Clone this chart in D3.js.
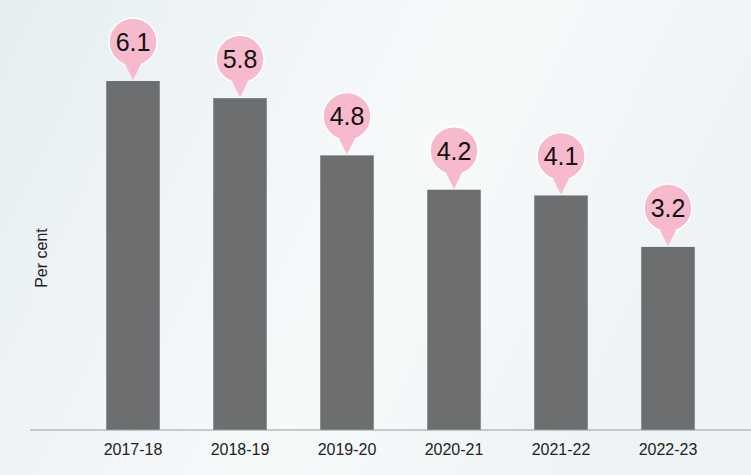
<!DOCTYPE html>
<html><head><meta charset="utf-8">
<script src="https://cdn.jsdelivr.net/npm/d3@7"></script>
<style>body{margin:0;background:#fff}</style></head>
<body><svg id="c" width="751" height="475"></svg>
<script>
const categories=["2017-18","2018-19","2019-20","2020-21","2021-22","2022-23"];
const values=[6.1,5.8,4.8,4.2,4.1,3.2];
const svg=d3.select("#c");
const defs=svg.append("defs");
const g=defs.append("linearGradient").attr("id","bg").attr("x1","0").attr("y1","0").attr("x2","1").attr("y2","0.3");
g.append("stop").attr("offset","0").attr("stop-color","#e6eef2");
g.append("stop").attr("offset","0.6").attr("stop-color","#f7fafb");
g.append("stop").attr("offset","1").attr("stop-color","#eef3f5");
svg.append("rect").attr("width",751).attr("height",475).attr("fill","url(#bg)");
const x=d3.scaleBand().domain(categories).range([79.5,721.5]).paddingInner(0.5).paddingOuter(0.25);
const y=d3.scaleLinear().domain([0,6.1]).range([430,81]);
svg.selectAll(".bar").data(values).join("rect")
 .attr("x",(d,i)=>x(categories[i])).attr("width",x.bandwidth())
 .attr("y",d=>y(d)).attr("height",d=>y(0)-y(d)).attr("fill","#6d6e70");
const ax=svg.append("g").attr("transform","translate(0,430)").call(d3.axisBottom(x).tickSize(0).tickPadding(14));
ax.select(".domain").remove();
svg.append("line").attr("x1",30).attr("x2",751).attr("y1",430).attr("y2",430).attr("stroke","#9a9a9a");
ax.selectAll("text").attr("font-family","Arial, Liberation Sans, sans-serif").attr("font-size",16).attr("fill","#222");
svg.append("text").attr("transform","translate(47,258) rotate(-90)").attr("text-anchor","middle")
 .attr("font-family","Arial, Liberation Sans, sans-serif").attr("font-size",16).attr("fill","#222").text("Per cent");
const b=svg.selectAll(".bub").data(values).join("g")
 .attr("transform",(d,i)=>`translate(${x(categories[i])+x.bandwidth()/2},${y(d)})`);
b.append("circle").attr("cy",-39).attr("r",24).attr("fill","#f7b9cc").attr("stroke","#fff").attr("stroke-width",1.5);
b.append("path").attr("d","M-8,-17 L0,-1 L8,-17 Z").attr("fill","#f7b9cc");
b.append("text").attr("y",-30).attr("text-anchor","middle").attr("font-family","Arial, Liberation Sans, sans-serif")
 .attr("font-size",25).attr("fill","#111").text(d=>d.toFixed(1));
</script></body></html>
